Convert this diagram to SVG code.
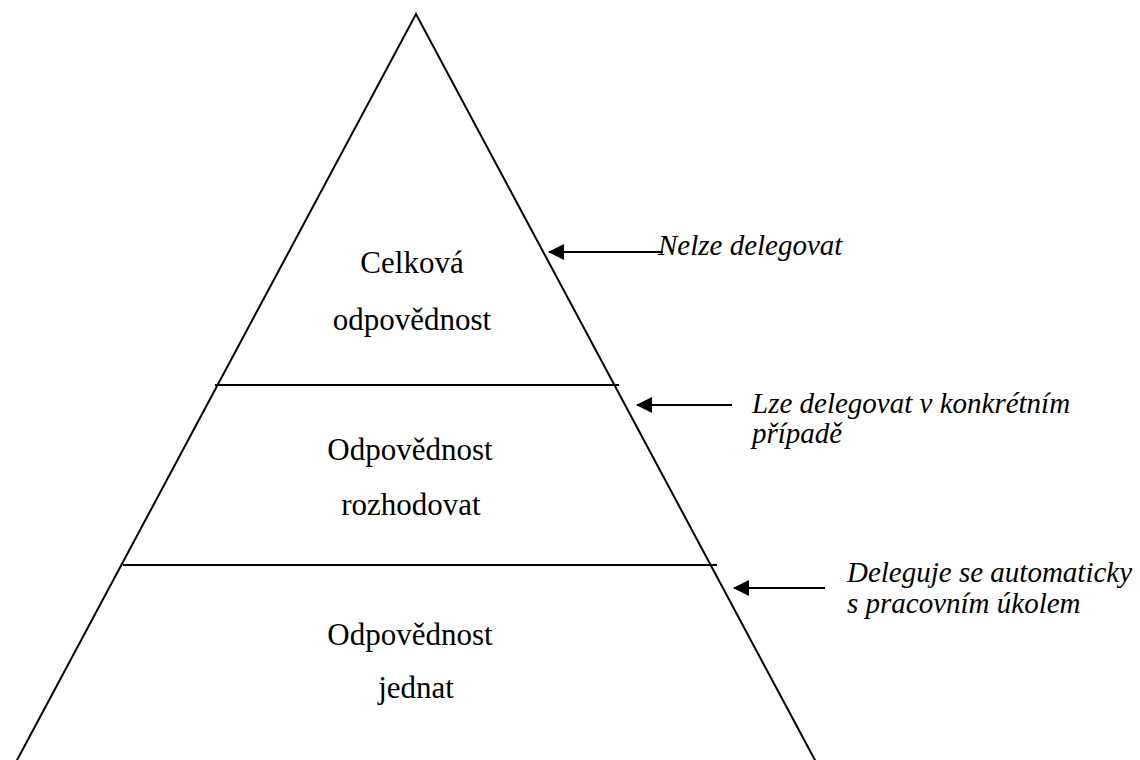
<svg xmlns="http://www.w3.org/2000/svg" width="1140" height="760" viewBox="0 0 1140 760">
<style>
.ln{stroke:#000;stroke-width:2;fill:none}
.lbl{font-family:'Liberation Serif','Tinos','Times New Roman','DejaVu Serif',serif;font-size:31px;fill:#000;text-anchor:middle}
.note{font-family:'Liberation Serif','Tinos','Times New Roman','DejaVu Serif',serif;font-size:29px;font-style:italic;fill:#000}
</style>
<defs>
<marker id="ah" markerWidth="8" markerHeight="8" refX="7.5" refY="4" orient="auto" markerUnits="strokeWidth">
<path d="M0,0 L8,4 L0,8 Z" fill="#000"/>
</marker>
</defs>
<rect width="1140" height="760" fill="#fff"/>
<g id="pyramid">
<path class="ln" d="M16,762 L416,14 L816,762"/>
<line class="ln" x1="215" y1="385" x2="619" y2="385"/>
<line class="ln" x1="123" y1="565" x2="717" y2="565"/>
</g>
<g id="tier1">
<text class="lbl" x="412" y="273">Celková</text>
<text class="lbl" x="412" y="330">odpovědnost</text>
</g>
<g id="tier2">
<text class="lbl" x="410" y="460">Odpovědnost</text>
<text class="lbl" x="411" y="515">rozhodovat</text>
</g>
<g id="tier3">
<text class="lbl" x="410" y="645">Odpovědnost</text>
<text class="lbl" x="416" y="698">jednat</text>
</g>
<g id="connectors">
<line class="ln" x1="663" y1="252" x2="549" y2="252" marker-end="url(#ah)"/>
<line class="ln" x1="732" y1="405" x2="637" y2="405" marker-end="url(#ah)"/>
<line class="ln" x1="825" y1="588" x2="734" y2="588" marker-end="url(#ah)"/>
</g>
<g id="note1">
<text class="note" x="658" y="255">Nelze delegovat</text>
</g>
<g id="note2">
<text class="note" x="752" y="413">Lze delegovat v konkrétním</text>
<text class="note" x="752" y="443">případě</text>
</g>
<g id="note3">
<text class="note" x="847" y="582">Deleguje se automaticky</text>
<text class="note" x="847" y="613">s pracovním úkolem</text>
</g>
</svg>
